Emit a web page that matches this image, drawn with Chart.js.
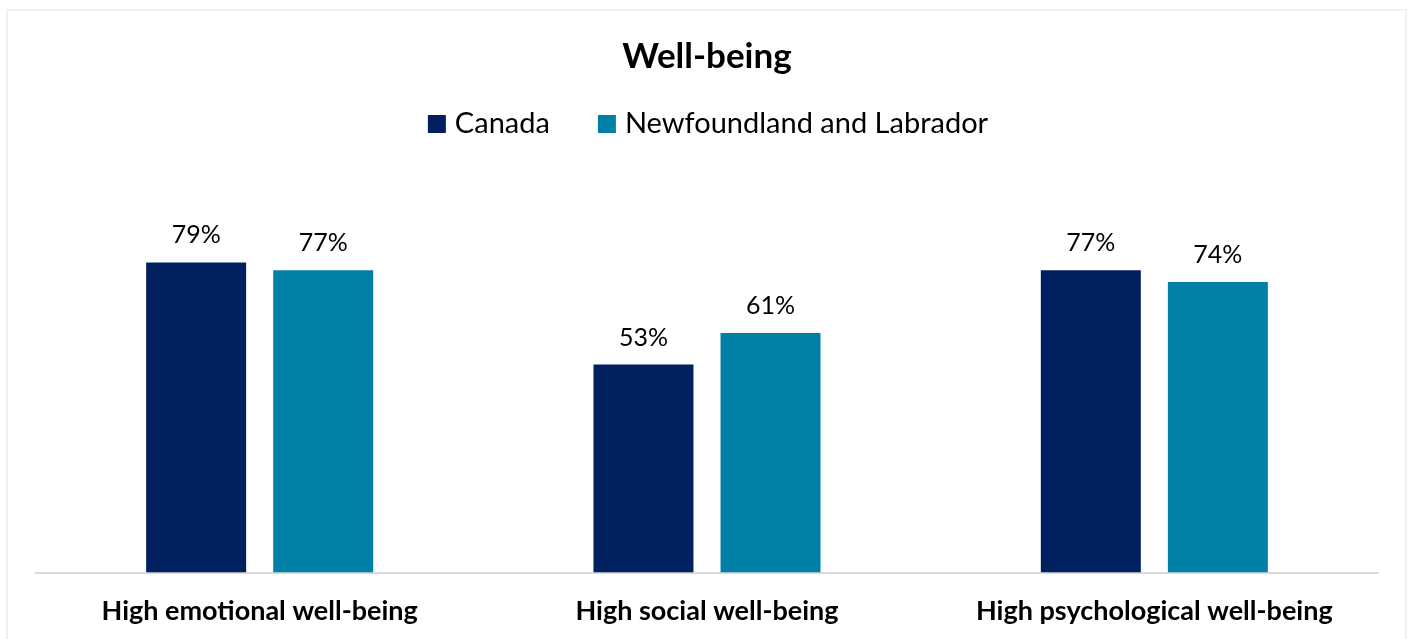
<!DOCTYPE html>
<html>
<head>
<meta charset="utf-8">
<title>Well-being</title>
<script src="https://cdn.jsdelivr.net/npm/chart.js@4"></script>
<style>
  body { margin: 0; background: #fff; }
  .wrap { position: relative; width: 1409px; height: 639px; overflow: hidden; }
  .frame { position: absolute; left: 6px; top: 9px; width: 1397px; height: 700px; border: 2px solid #f0f0f0; }
  canvas { position: absolute; left: 0; top: 0; }
</style>
</head>
<body>
<div class="wrap">
  <div class="frame"></div>
  <canvas id="chart" width="1409" height="653"></canvas>
</div>
<script>
const categories = ['High emotional well-being', 'High social well-being', 'High psychological well-being']
const canada = [79, 53, 77]
const newfoundland = [77, 61, 74]

const FONT = "Lato, 'Open Sans', sans-serif"

/* value labels above bars */
const barLabels = {
  id: 'barLabels',
  afterDatasetsDraw(chart) {
    const ctx = chart.ctx
    ctx.save()
    ctx.font = '25px ' + FONT
    ctx.fillStyle = '#000'
    ctx.textAlign = 'center'
    ctx.textBaseline = 'alphabetic'
    chart.data.datasets.forEach((ds, i) => {
      chart.getDatasetMeta(i).data.forEach((bar, j) => {
        ctx.fillText(ds.data[j] + '%', bar.x, bar.y - 19)
      })
    })
    ctx.restore()
  }
}

/* legend row under the title, drawn by hand for tighter spacing */
const legendRow = {
  id: 'legendRow',
  afterDraw(chart) {
    const ctx = chart.ctx
    const box = 18, gap = 9, between = 48, y = 115
    ctx.save()
    ctx.font = '29px ' + FONT
    ctx.textBaseline = 'alphabetic'
    const items = chart.data.datasets.map(ds => ({
      text: ds.label,
      color: ds.backgroundColor,
      w: box + gap + ctx.measureText(ds.label).width
    }))
    const total = items.reduce((s, it) => s + it.w, 0) + between * (items.length - 1)
    let x = (chart.chartArea.left + chart.chartArea.right) / 2 + 1 - total / 2
    items.forEach(it => {
      ctx.fillStyle = it.color
      ctx.fillRect(x, y, box, box)
      ctx.fillStyle = '#000'
      ctx.fillText(it.text, x + box + gap, y + box)
      x += it.w + between
    })
    ctx.restore()
  }
}

new Chart(document.getElementById('chart'), {
  type: 'bar',
  data: {
    labels: categories,
    datasets: [{
      label: 'Canada',
      data: canada,
      backgroundColor: '#002060',
      categoryPercentage: 0.568,
      barPercentage: 0.787
    }, {
      label: 'Newfoundland and Labrador',
      data: newfoundland,
      backgroundColor: '#0080a6',
      categoryPercentage: 0.568,
      barPercentage: 0.787
    }]
  },
  options: {
    responsive: false,
    animation: false,
    layout: { padding: { left: 36, right: 31, top: 20, bottom: 12 } },
    scales: {
      x: {
        grid: { display: false },
        border: { display: true, color: '#d9d9d9', width: 2 },
        ticks: { color: '#000', padding: 14, font: { family: FONT, size: 27, weight: 'bold' } }
      },
      y: { display: false, min: 0, max: 100 }
    },
    plugins: {
      title: {
        display: true,
        text: 'Well-being',
        color: '#000',
        font: { family: FONT, size: 35, weight: 'bold' },
        padding: { top: 16, bottom: 102 }
      },
      legend: { display: false },
      tooltip: { enabled: false }
    }
  },
  plugins: [barLabels, legendRow]
})
</script>
</body>
</html>
